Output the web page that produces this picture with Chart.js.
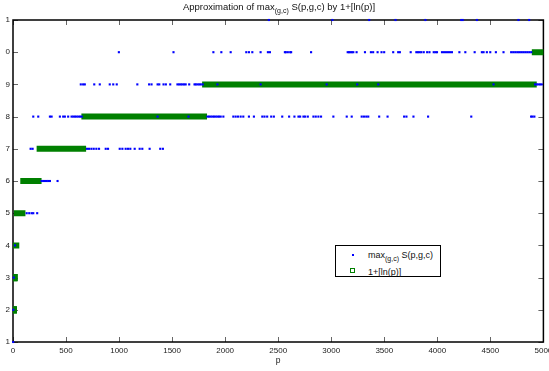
<!DOCTYPE html>
<html lang="en">
<head>
    <meta charset="UTF-8">
    <title>Approximation of max S(p,g,c) by 1+[ln(p)]</title>
    <script src="https://cdn.jsdelivr.net/npm/chart.js"></script>
    <style>
        html, body { margin: 0; padding: 0; background: #fff; }
        .wrap { position: relative; width: 549px; height: 371px; font-family: 'Liberation Sans', Arial, Helvetica, sans-serif; color: #111; }
        .chart-title { position: absolute; left: 13px; top: 2px; width: 532px; text-align: center; font-size: 9.5px; line-height: 10px; white-space: nowrap; }
        sub { font-size: 7px; line-height: 0; vertical-align: -3px; }
        .legend { position: absolute; left: 335px; top: 245px; width: 104px; height: 30px; border: 1px solid #000; background: #fff; font-size: 9px; }
        .legend .row { position: absolute; left: 32px; line-height: 10px; white-space: nowrap; }
        .legend .dot { position: absolute; left: 16px; top: 8px; width: 2px; height: 2px; background: #0000ff; }
        .legend .sq { position: absolute; left: 14px; top: 22px; width: 3px; height: 3px; border: 1.5px solid #008000; }
    </style>
</head>
<body>
<div class="wrap">
    <canvas id="approxChart" width="549" height="371"></canvas>
    <div class="chart-title">Approximation of max<sub>(g,c)</sub> S(p,g,c) by 1+[ln(p)]</div>
    <div class="legend">
        <span class="dot"></span>
        <span class="row" style="top:4px">max<sub>(g,c)</sub> S(p,g,c)</span>
        <span class="sq"></span>
        <span class="row" style="top:21px">1+[ln(p)]</span>
    </div>
</div>

<script>
// y tick labels as printed (first digit of 10 and 11 cut off in the original)
const yTickLabels = ['1', '2', '3', '4', '5', '6', '7', '8', '9', '0', '1'];

// max S(p,g,c): p values, one array per level
const blueAt1 = [2];
const blueAt2 = [3];
const blueAt3 = [7];
const blueAt4 = [19];
const blueAt5 = [129, 153, 176, 191, 228];
const blueAt6 = [270, 285, 301, 317, 332, 348, 420];
const blueAt7 = [166, 185, 698, 717, 739, 761, 786, 811, 874, 896, 1006, 1031, 1062, 1084, 1106, 1147, 1194, 1219, 1288, 1388, 1413];
const blueAt8 = [191, 238, 348, 364, 442, 473, 489, 520, 552, 568, 584, 600, 616, 632, 648,
    1363, 1654,
    1833, 1848, 1864, 1880, 1895, 1911, 1927, 1942, 1958, 1983, 2077, 2099, 2121, 2146, 2171, 2224, 2271,
    2350, 2371, 2396, 2434, 2459, 2538, 2603, 2653, 2691, 2707, 2738, 2754, 2779, 2832, 2854, 2879, 2904,
    3020, 3146, 3193, 3287, 3308, 3330, 3349, 3452, 3531, 3687, 3709, 3775, 3913, 4320, 4884, 4897, 4915];
const blueAt9 = [639, 661, 677, 766, 818, 912, 945, 978, 1172, 1283, 1306, 1363, 1379, 1419, 1441, 1482,
    1550, 1566, 1582, 1597, 1613, 1628, 1661, 1711, 1723, 1739, 1755, 1770, 1788,
    1927, 2334, 2957, 3245, 3443, 4530,
    4922, 4938, 4953, 4969, 4984];
const blueAt10 = [998, 1513, 1889, 1964, 2052, 2199, 2224, 2256, 2334, 2403, 2422, 2563, 2572, 2591, 2613, 2622,
    2810, 3155, 3168, 3181, 3194, 3208, 3239, 3318, 3374, 3395, 3437, 3474, 3499, 3584, 3631, 3647,
    3749, 3802, 3817, 3833, 3849, 3872, 3904, 3926, 3966, 3982, 3997, 4044, 4063, 4082, 4101, 4119, 4138,
    4208, 4264, 4352, 4420, 4436, 4467, 4499, 4552, 4624, 4696, 4715, 4734, 4753, 4771, 4790, 4809,
    4828, 4847, 4866, 4885];
const blueAt11 = [2412, 3011, 3358, 3606, 3888, 4226, 4239, 4373, 4765, 4866];

// 1+[ln(p)]: each level is a run of primes from lnFrom to lnTo
const lnLevel = [2, 3, 4, 5, 6, 7, 8, 9, 10];
const lnFrom = [2, 5, 13, 37, 97, 251, 673, 1811, 4919];
const lnTo = [3, 11, 31, 89, 241, 661, 1801, 4909, 4999];

const blueLists = [blueAt1, blueAt2, blueAt3, blueAt4, blueAt5, blueAt6, blueAt7, blueAt8, blueAt9, blueAt10, blueAt11];
const bluePoints = [];
blueLists.forEach((list, i) => list.forEach(p => bluePoints.push({ x: p, y: i + 1 })));

const greenPoints = [];
lnLevel.forEach((v, i) => {
    if (v <= 3) {
        // only a couple of primes: separate hollow squares
        greenPoints.push({ x: lnFrom[i], y: v }, { x: lnFrom[i], y: null });
        greenPoints.push({ x: lnTo[i], y: v }, { x: lnTo[i], y: null });
    } else {
        greenPoints.push({ x: lnFrom[i], y: v }, { x: lnTo[i], y: v }, { x: lnTo[i], y: null });
    }
});

// box + inward ticks, matlab style
const framePlugin = {
    id: 'frame',
    beforeDatasetsDraw(chart) {
        const { ctx, chartArea: a, scales: { x, y } } = chart;
        const seg = (x1, y1, x2, y2) => { ctx.beginPath(); ctx.moveTo(x1, y1); ctx.lineTo(x2, y2); ctx.stroke(); };
        ctx.save();
        ctx.strokeStyle = '#666';
        ctx.lineWidth = 1;
        x.ticks.forEach(t => {
            const px = Math.round(x.getPixelForValue(t.value)) + 0.5;
            seg(px, a.bottom, px, a.bottom - 5);
            seg(px, a.top, px, a.top + 5);
        });
        y.ticks.forEach(t => {
            const py = Math.round(y.getPixelForValue(t.value)) + 0.5;
            seg(a.left, py, a.left + 5, py);
            seg(a.right, py, a.right - 5, py);
        });
        ctx.strokeStyle = '#000';
        ctx.lineWidth = 1.5;
        ctx.strokeRect(a.left, a.top, a.right - a.left, a.bottom - a.top);
        ctx.restore();
    }
};

const tickFont = { family: "'Liberation Sans', Arial, sans-serif", size: 8 };

new Chart(document.getElementById('approxChart'), {
    type: 'scatter',
    data: {
        datasets: [{
            label: 'max S(p,g,c)',
            data: bluePoints,
            showLine: false,
            pointStyle: 'rect',
            pointRadius: 1.5,
            pointBorderWidth: 0,
            pointBackgroundColor: '#0000ff',
            clip: false
        }, {
            label: '1+[ln(p)]',
            data: greenPoints,
            showLine: true,
            spanGaps: false,
            borderColor: '#008000',
            borderWidth: 6,
            borderCapStyle: 'square',
            pointStyle: 'rect',
            pointRadius: c => (c.raw && c.raw.y <= 3 ? 4.2 : 0),
            pointBorderWidth: 1.4,
            pointBorderColor: '#008000',
            pointBackgroundColor: 'rgba(0,0,0,0)'
        }]
    },
    options: {
        responsive: false,
        animation: false,
        events: [],
        layout: { padding: { top: 20, right: 4, left: 0, bottom: 0 } },
        plugins: {
            legend: { display: false },
            title: { display: false },
            tooltip: { enabled: false }
        },
        scales: {
            x: {
                type: 'linear',
                min: 0,
                max: 5000,
                grid: { display: false, drawTicks: false },
                border: { display: false },
                ticks: {
                    stepSize: 500,
                    autoSkip: false,
                    maxRotation: 0,
                    padding: 4,
                    color: '#222',
                    font: tickFont,
                    callback: v => String(v)
                },
                title: { display: true, text: 'p', color: '#222', padding: { top: 0, bottom: 5 }, font: { family: tickFont.family, size: 8.5 } },
                afterFit(s) { s.height = 29; s.paddingLeft = 0; s.paddingRight = 0; }
            },
            y: {
                type: 'linear',
                min: 1,
                max: 11,
                grid: { display: false, drawTicks: false },
                border: { display: false },
                ticks: {
                    stepSize: 1,
                    autoSkip: false,
                    padding: 3,
                    color: '#222',
                    font: tickFont,
                    callback: (v, i) => yTickLabels[i]
                },
                afterFit(s) { s.width = 13; s.paddingTop = 0; s.paddingBottom = 0; }
            }
        }
    },
    plugins: [framePlugin]
});
</script>
</body>
</html>
